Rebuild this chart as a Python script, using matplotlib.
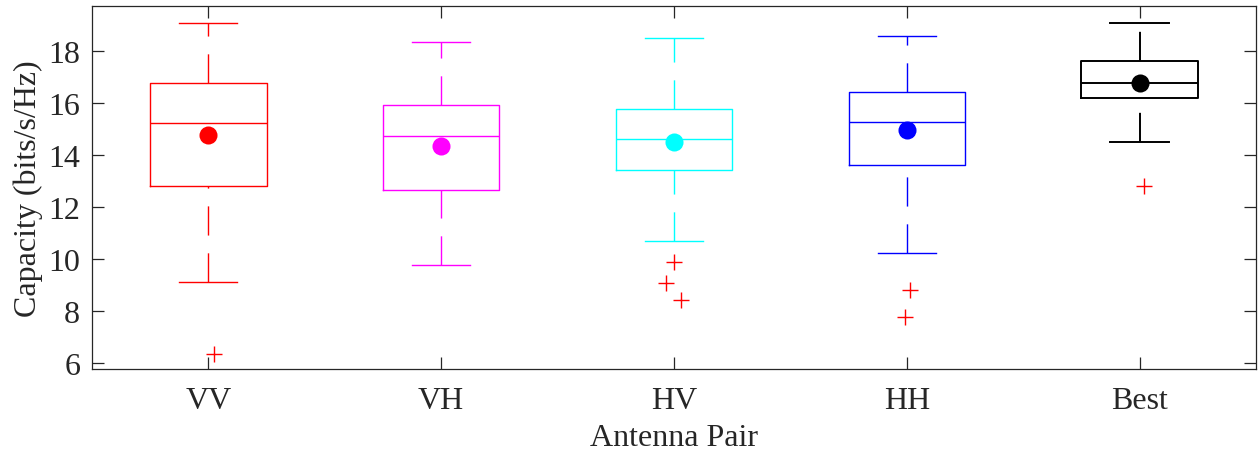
import matplotlib
matplotlib.use("Agg")
import matplotlib.pyplot as plt

plt.rcParams["font.family"] = ["Liberation Serif", "DejaVu Serif"]
plt.rcParams["lines.scale_dashes"] = False

# Antenna-pair capacity statistics (bits/s/Hz)
pairs = ["VV", "VH", "HV", "HH", "Best"]
colors = ["#ff0000", "#ff00ff", "#00ffff", "#0000ff", "#000000"]
lower_whisker = [9.13, 9.79, 10.69, 10.24, 14.49]
q1 = [12.82, 12.65, 13.44, 13.61, 16.18]
median = [15.22, 14.74, 14.62, 15.28, 16.76]
q3 = [16.77, 15.92, 15.76, 16.42, 17.63]
upper_whisker = [19.07, 18.34, 18.50, 18.57, 19.07]
mean = [14.76, 14.36, 14.49, 14.97, 16.76]

# Outliers: (group index, value, horizontal jitter)
outlier_group = [0, 2, 2, 2, 3, 3, 4]
outlier_value = [6.36, 9.89, 9.10, 8.43, 8.83, 7.79, 12.82]
outlier_jitter = [0.026, 0.0, -0.033, 0.029, 0.013, -0.006, 0.019]

fig = plt.figure(figsize=(12.58, 4.56), dpi=100)
ax = fig.add_axes([0.0731, 0.1886, 0.9253, 0.796])

positions = list(range(1, len(pairs) + 1))
stats = []
for i, name in enumerate(pairs):
    stats.append(dict(label=name, med=median[i], q1=q1[i], q3=q3[i],
                      whislo=lower_whisker[i], whishi=upper_whisker[i],
                      mean=mean[i], fliers=[]))

bp = ax.bxp(stats, positions=positions, widths=0.5, showfliers=False,
            showmeans=False, patch_artist=False, capwidths=0.25)

for i, c in enumerate(colors):
    lw = 1.4 if c == "#000000" else 1.0
    bp["boxes"][i].set(color=c, linewidth=lw)
    bp["medians"][i].set(color=c, linewidth=lw)
    for w in bp["whiskers"][2 * i:2 * i + 2]:
        w.set(color=c, linewidth=lw, linestyle=(0, (21.0, 12.8)))
    # lower whisker runs upward from the cap to the box
    lo = bp["whiskers"][2 * i]
    lo.set_ydata(lo.get_ydata()[::-1])
    lo.set_xdata(lo.get_xdata()[::-1])
    for cp in bp["caps"][2 * i:2 * i + 2]:
        cp.set(color=c, linewidth=lw)
    ax.plot(positions[i], mean[i], "o", color=c, markersize=13,
            markeredgewidth=0, zorder=4)

for g, v, j in zip(outlier_group, outlier_value, outlier_jitter):
    ax.plot(positions[g] + j, v, "+", color="#ff0000", markersize=12,
            markeredgewidth=1.0, zorder=4)

ax.set_xlim(0.5, 5.5)
ax.set_ylim(5.78, 19.73)
ax.set_yticks([6, 8, 10, 12, 14, 16, 18])
ax.set_xticks(positions)
ax.set_xticklabels(pairs)

edge = "#262626"
for s in ax.spines.values():
    s.set_color(edge)
    s.set_linewidth(0.9)
ax.tick_params(axis="both", which="both", direction="in", length=8.5,
               width=0.9, color=edge, labelcolor=edge, labelsize=23,
               top=True, right=True)
ax.tick_params(axis="x", pad=12)
ax.tick_params(axis="y", pad=8.5)

ax.set_xlabel("Antenna Pair", fontsize=23, color=edge, labelpad=6)
ax.set_ylabel("Capacity (bits/s/Hz)", fontsize=23, color=edge, labelpad=4)

fig.savefig("out.png", dpi=100)
